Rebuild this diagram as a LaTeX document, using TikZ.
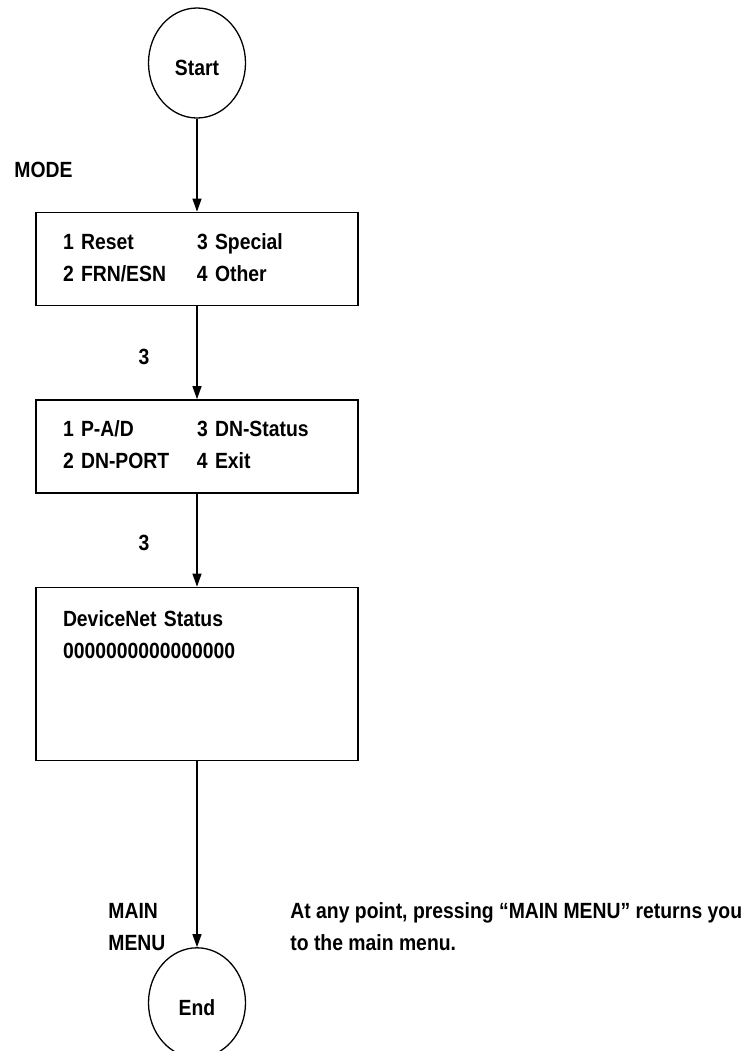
\documentclass[tikz,border=0pt]{standalone}
\usepackage{fontspec}
\setmainfont{Liberation Sans}[FakeStretch=0.88]
\usepackage{xcolor}
\usepackage{tikz}
\usetikzlibrary{arrows.meta,positioning,shapes.geometric}

\begin{document}
\begin{tikzpicture}[
  x=0.5pt, y=-0.5pt,
  node distance=46.5pt,
  every node/.style={font=\fontsize{11}{16}\selectfont\bfseries},
  term/.style={draw,ellipse,line width=0.65pt,inner sep=0pt,minimum width=48.5pt,minimum height=55pt,text height=12.5pt},
  menubox/.style={draw,line width=0.75pt,minimum width=161pt,minimum height=46.5pt,inner xsep=13.5pt,inner ysep=0pt,text width=134pt,align=left},
  lbl/.style={inner sep=0pt},
  arr/.style={-{Triangle[length=6.5pt,width=4.5pt]},line width=0.6pt}
]
\useasboundingbox (0,0) rectangle (749,1051);

\node[term] (start) at (197,63) {Start};
\node[menubox,below=of start] (mode) {\begin{tabular}{@{}p{67pt}@{}l@{}}1 Reset & 3 Special\\ 2 FRN/ESN & 4 Other\end{tabular}};
\node[menubox,below=of mode] (special) {\begin{tabular}{@{}p{67pt}@{}l@{}}1 P-A/D & 3 DN-Status\\ 2 DN-PORT & 4 Exit\end{tabular}};
\node[menubox,below=of special,inner ysep=11.5pt] (status) {\begin{minipage}[c][63.5pt][t]{\linewidth}DeviceNet Status\\ 0000000000000000\end{minipage}};
\node[term,below=93pt of status] (end) {End};

% keys pressed
\node[lbl,anchor=west] (modekey) at (14,170) {MODE};
\node[lbl,anchor=west,align=left] (mainkey) at (108,927) {MAIN\\ MENU};
\node[lbl,anchor=west,align=left] (note) at (290,927) {At any point, pressing “MAIN MENU” returns you\\ to the main menu.};

\draw[arr] (start) -- (mode);
\draw[arr] (mode) -- node[lbl,pos=0.55,left=23.5pt] (key1) {3} (special);
\draw[arr] (special) -- node[lbl,pos=0.53,left=23.5pt] (key2) {3} (status);
\draw[arr] (status) -- (end);
\end{tikzpicture}
\end{document}
